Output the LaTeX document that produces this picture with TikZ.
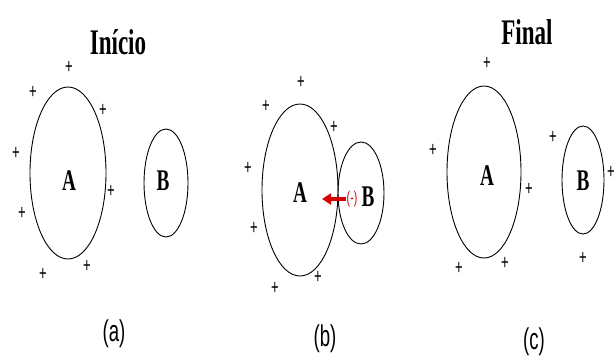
\documentclass[tikz,border=0pt]{standalone}
\usepackage{fontspec}
\usepackage{xcolor}
\usepackage{tikz}
\usetikzlibrary{shapes.geometric,arrows.meta,positioning,calc}
\newfontfamily\titlefont[FakeStretch=0.64]{Liberation Serif}
\newfontfamily\capfont[FakeStretch=0.62]{Liberation Sans}

\begin{document}
\begin{tikzpicture}[
    x=1pt, y=-1pt,
    ball/.style={ellipse, draw=black, line width=0.9pt, inner sep=0pt},
    letter/.style={font=\titlefont\bfseries\fontsize{30}{30}\selectfont, inner sep=0pt},
    heading/.style={font=\titlefont\bfseries\fontsize{36}{36}\selectfont, inner sep=0pt},
    chg/.style={font=\capfont\fontsize{21}{21}\selectfont, inner sep=0pt},
    caption/.style={font=\capfont\fontsize{30}{30}\selectfont, inner sep=0pt},
    pull/.style={-{Triangle[length=9pt,width=11pt]}, line width=3.5pt, draw=red!85!black}
]
    \useasboundingbox (0,0) rectangle (615,360);

    % (a) start
    \node [heading] (tA) at (118,42) {Início};
    \node [ball, minimum width=76pt, minimum height=172pt] (Aa) at (68,173) {};
    \node [ball, minimum width=44pt, minimum height=108pt] (Ba) at (166,183) {};
    \node [letter] (lAa) at (69,181) {A};
    \node [letter] (lBa) at (163,181) {B};
    \foreach \p [count=\i] in {(69,67),(33,92),(103,110),(16,153),(111,191),(22,213),(87,266),(43,274)}
        \node [chg] (pa\i) at \p {+};
    \node [caption] (ca) at (114,334) {(a)};

    % (b) contact
    \node [ball, minimum width=76pt, minimum height=172pt] (Ab) at (300,190) {};
    \node [ball, minimum width=46pt, minimum height=102pt] (Bb) at (361,193) {};
    \node [letter] (lAb) at (300,193) {A};
    \node [letter] (lBb) at (368,197) {B};
    \foreach \p [count=\i] in {(301,82),(266,106),(334,127),(248,168),(254,228),(275,288),(318,277)}
        \node [chg] (pb\i) at \p {+};
    \node [font=\capfont\fontsize{17}{17}\selectfont, text=red!80!black, inner sep=0pt] (neg) at (352,199) {(-)};
    \coordinate (tail) at (346,199);
    \coordinate (head) at (322,199);
    \draw [pull] (tail) -- (head);
    \node [caption] (cb) at (325,339) {(b)};

    % (c) end
    \node [heading] (tC) at (527,32) {Final};
    \node [ball, minimum width=74pt, minimum height=172pt] (Ac) at (484,172) {};
    \node [ball, minimum width=42pt, minimum height=108pt] (Bc) at (583,180) {};
    \node [letter] (lAc) at (487,176) {A};
    \node [letter] (lBc) at (583,181) {B};
    \foreach \p [count=\i] in {(487,63),(433,150),(529,189),(459,268),(505,263),(553,137),(611,172),(583,258)}
        \node [chg] (pc\i) at \p {+};
    \node [caption] (cc) at (534,342) {(c)};
\end{tikzpicture}
\end{document}
